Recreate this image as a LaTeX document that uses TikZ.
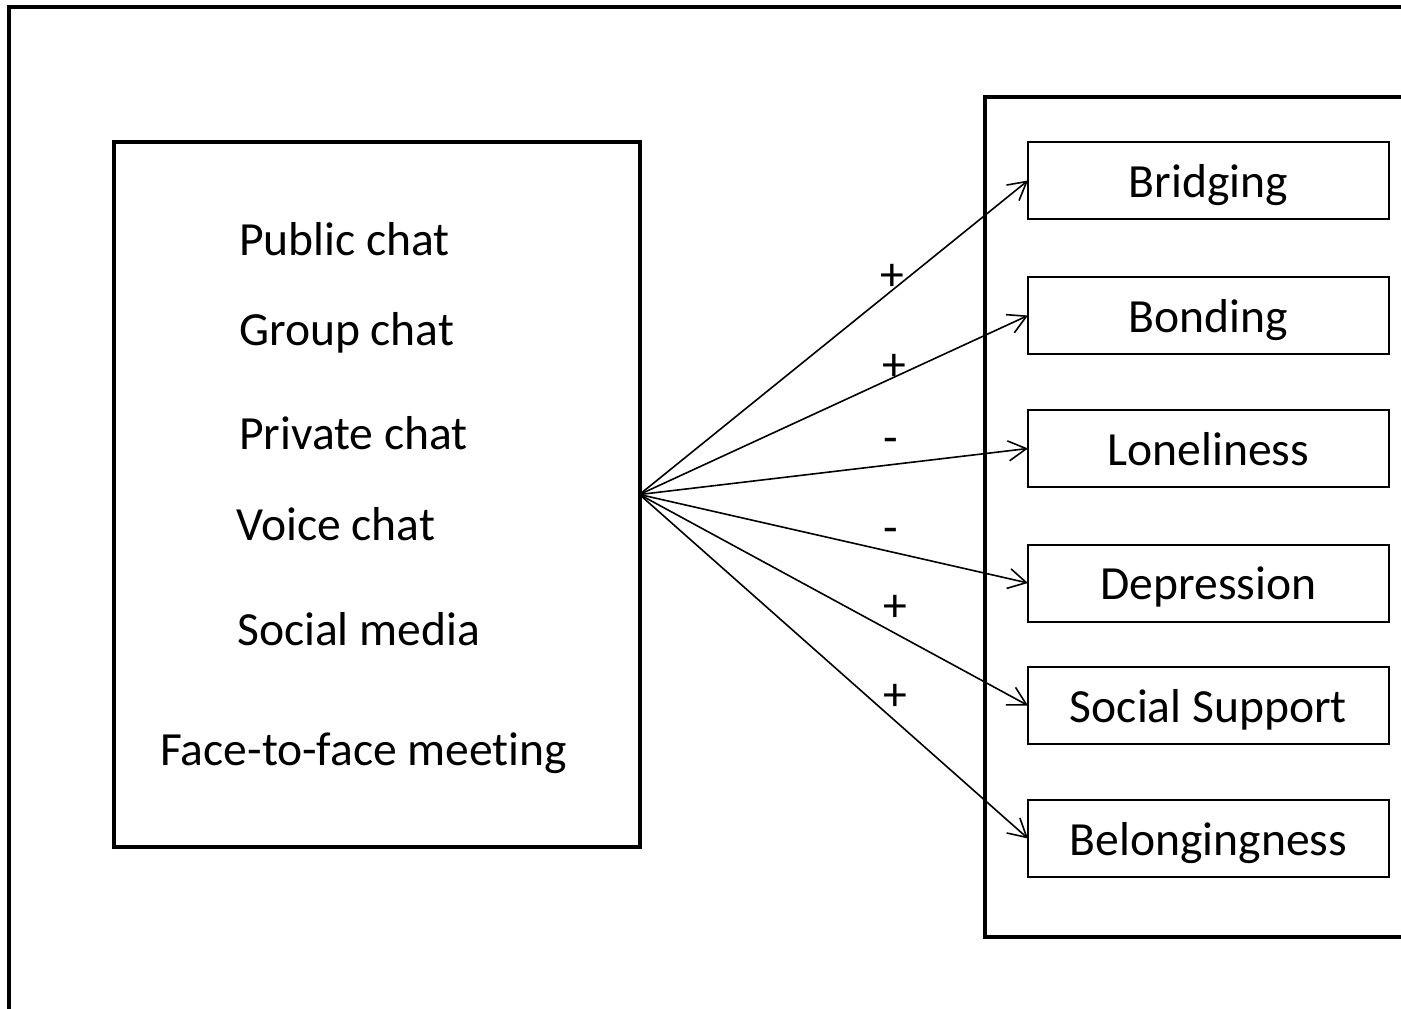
\documentclass[tikz,border=0pt]{standalone}
\usepackage{fontspec}
\setmainfont{Carlito}[Ligatures={NoCommon}]
\usetikzlibrary{arrows.meta}
\begin{document}
\begin{tikzpicture}[x=1pt,y=-1pt,
  every node/.style={font=\fontsize{47.6}{57}\selectfont},
  bigframe/.style={draw, line width=4pt},
  srcbox/.style={draw, line width=4pt, minimum width=526pt, minimum height=705pt, inner sep=0pt, outer sep=0pt},
  outbox/.style={draw, line width=2pt, minimum width=361pt, minimum height=77pt, inner sep=0pt, outer sep=0pt, text height=33pt, text depth=0pt},
  item/.style={anchor=base west, inner sep=0pt},
  sign/.style={inner sep=0pt},
  link/.style={line width=1.6pt, -{Straight Barb[length=18pt,width=20pt,line width=1.6pt]}}]
\useasboundingbox (0,0) rectangle (1401,1009);
\clip (0,0) rectangle (1401,1009);
% outer frame and right group frame (cut off by the page edge)
\draw[bigframe] (9,7) rectangle (1440,1050);
\draw[bigframe] (985,96.5) rectangle (1440,937);
% left box
\node[srcbox] (src) at (376.5,494.5) {};
\node[item] (t1) at (239,255) {Public chat};
\node[item] (t2) at (239,345) {Group chat};
\node[item] (t3) at (239,449) {Private chat};
\node[item] (t4) at (236,540) {Voice chat};
\node[item] (t5) at (237,645) {Social media};
\node[item] (t6) at (160,765) {Face-to-face meeting};
% outcome boxes
\node[outbox] (b1) at (1208.5,180.5) {Bridging};
\node[outbox] (b2) at (1208.5,315.5) {Bonding};
\node[outbox] (b3) at (1208.5,448.5) {Loneliness};
\node[outbox] (b4) at (1208.5,583) {Depression};
\node[outbox] (b5) at (1208.5,705.5) {Social Support};
\node[outbox] (b6) at (1208.5,838.5) {Belongingness};
% connectors
\foreach \b in {b1,b2,b3,b4,b5,b6}
  \draw[link] (src.east) -- (\b.west);
% signs
\node[sign] (s1) at (892,277) {+};
\node[sign] (s2) at (894,367) {+};
\node[sign] (s3) at (891,446) {-};
\node[sign] (s4) at (891,536) {-};
\node[sign] (s5) at (895,608) {+};
\node[sign] (s6) at (895,697) {+};
\end{tikzpicture}
\end{document}
